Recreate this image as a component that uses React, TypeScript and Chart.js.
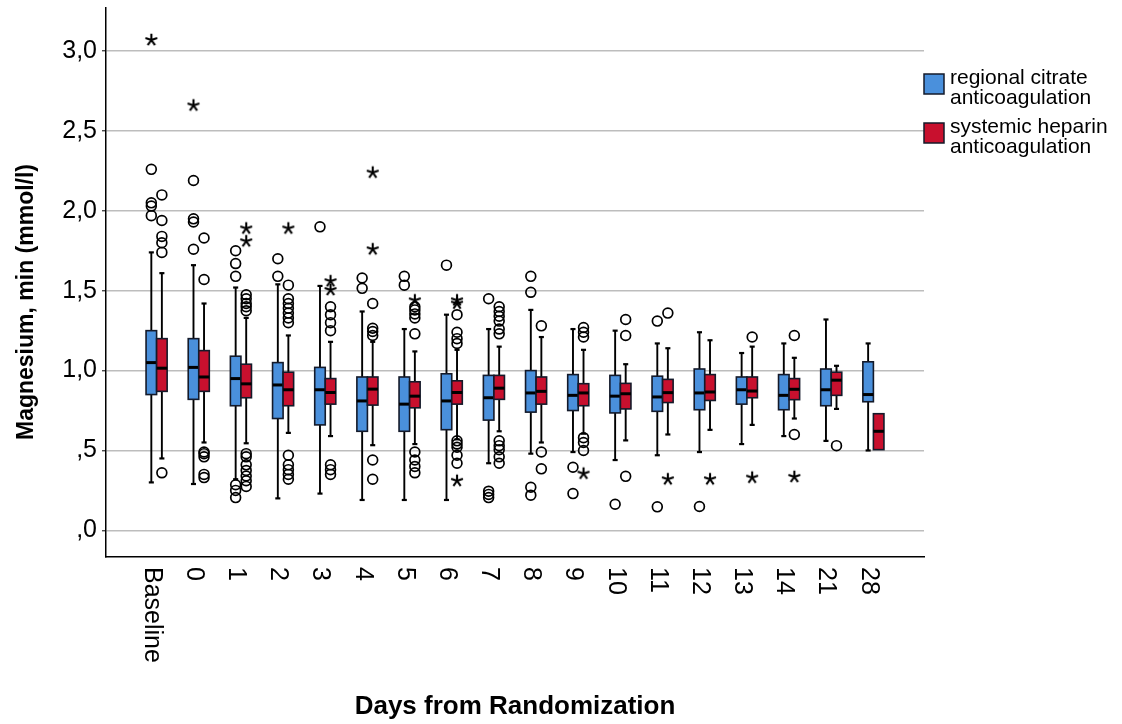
import React, { useEffect, useRef } from 'react';
import { Chart, registerables } from 'chart.js';

Chart.register(...registerables);

// ---------------- data ----------------
const categories = ['Baseline', '0', '1', '2', '3', '4', '5', '6', '7', '8', '9', '10', '11', '12', '13', '14', '21', '28'];

const seriesNames = [
  ['regional citrate', 'anticoagulation'],
  ['systemic heparin', 'anticoagulation'],
];

// regional citrate anticoagulation (blue)
const citrateLow = [0.30, 0.29, 0.32, 0.20, 0.23, 0.19, 0.19, 0.19, 0.42, 0.48, 0.49, 0.44, 0.47, 0.49, 0.54, 0.59, 0.56, 0.50];
const citrateQ1 = [0.85, 0.82, 0.78, 0.70, 0.66, 0.62, 0.62, 0.63, 0.69, 0.74, 0.75, 0.735, 0.745, 0.755, 0.79, 0.755, 0.78, 0.805];
const citrateMedian = [1.05, 1.02, 0.95, 0.91, 0.88, 0.81, 0.79, 0.81, 0.83, 0.86, 0.845, 0.84, 0.835, 0.86, 0.88, 0.845, 0.88, 0.85];
const citrateQ3 = [1.25, 1.20, 1.09, 1.05, 1.02, 0.96, 0.96, 0.98, 0.97, 1.00, 0.975, 0.97, 0.965, 1.01, 0.96, 0.975, 1.01, 1.055];
const citrateHigh = [1.74, 1.66, 1.52, 1.54, 1.53, 1.37, 1.26, 1.35, 1.26, 1.38, 1.26, 1.25, 1.17, 1.24, 1.11, 1.17, 1.32, 1.17];
const citrateOutliers = [
  [2.26, 2.05, 2.03, 1.97],
  [2.19, 1.95, 1.93, 1.76],
  [1.75, 1.67, 1.59, 0.285, 0.25, 0.205],
  [1.70, 1.59],
  [1.90],
  [1.58, 1.515],
  [1.59, 1.535],
  [1.66],
  [1.45, 0.245, 0.225, 0.205],
  [1.59, 1.49, 0.27, 0.22],
  [0.395, 0.23],
  [0.163],
  [1.31, 0.147],
  [0.149],
  [],
  [],
  [],
  [],
];
const citrateExtremes = [[3.07], [2.66], [], [], [], [], [], [], [], [], [], [], [], [], [], [], [], []];

// systemic heparin anticoagulation (red)
const heparinLow = [0.45, 0.55, 0.545, 0.61, 0.59, 0.533, 0.54, 0.57, 0.62, 0.55, 0.605, 0.563, 0.60, 0.629, 0.66, 0.70, 0.76, 0.505];
const heparinQ1 = [0.87, 0.87, 0.83, 0.78, 0.79, 0.784, 0.767, 0.79, 0.82, 0.79, 0.78, 0.76, 0.80, 0.813, 0.83, 0.818, 0.845, 0.505];
const heparinMedian = [1.015, 0.96, 0.917, 0.88, 0.863, 0.884, 0.84, 0.863, 0.89, 0.87, 0.86, 0.855, 0.862, 0.866, 0.872, 0.883, 0.94, 0.62];
const heparinQ3 = [1.20, 1.125, 1.04, 0.99, 0.95, 0.96, 0.93, 0.936, 0.97, 0.96, 0.918, 0.92, 0.945, 0.975, 0.96, 0.95, 0.99, 0.73];
const heparinHigh = [1.61, 1.42, 1.33, 1.22, 1.18, 1.18, 1.12, 1.13, 1.15, 1.21, 1.13, 1.04, 1.14, 1.19, 1.15, 1.08, 1.03, 0.73];
const heparinOutliers = [
  [2.10, 1.94, 1.84, 1.80, 1.74, 0.36],
  [1.83, 1.57, 0.49, 0.48, 0.46, 0.35, 0.33],
  [1.475, 1.45, 1.42, 1.40, 1.375, 0.48, 0.46, 0.41, 0.375, 0.34, 0.31, 0.275],
  [1.535, 1.45, 1.42, 1.39, 1.36, 1.33, 1.30, 0.47, 0.41, 0.38, 0.35, 0.32],
  [1.40, 1.35, 1.30, 1.25, 0.41, 0.38, 0.35],
  [1.42, 1.265, 1.245, 1.22, 0.44, 0.32],
  [1.40, 1.38, 1.355, 1.33, 1.23, 0.49, 0.44, 0.40, 0.36],
  [1.35, 1.24, 1.20, 1.17, 0.56, 0.54, 0.52, 0.47, 0.42],
  [1.40, 1.37, 1.34, 1.31, 1.26, 1.23, 0.56, 0.53, 0.505, 0.46, 0.42],
  [1.28, 0.49, 0.385],
  [1.27, 1.24, 1.21, 0.58, 0.55, 0.50],
  [1.32, 1.22, 0.338],
  [1.36],
  [],
  [1.21],
  [1.22, 0.60],
  [0.53],
  [],
];
const heparinExtremes = [
  [], [], [1.89, 1.81], [1.89], [1.56, 1.505], [2.24, 1.76], [1.44], [1.44, 1.42, 0.31],
  [], [], [0.355], [], [0.32], [0.32], [0.33], [0.335], [], [],
];

const yTickValues = [0, 0.5, 1, 1.5, 2, 2.5, 3];
const xAxisTitle = 'Days from Randomization';
const yAxisTitle = 'Magnesium, min (mmol/l)';

// ---------------- style ----------------
const BLUE = '#4a90dc';
const RED = '#c8102e';
const FONT = '"Liberation Sans", Arial, sans-serif';
const GROUP_OFFSET = 0.125;
const BOX_HALF = 0.125;
const CAP_HALF = 0.06;

function toPoints(groups: number[][], off: number) {
  const out: { x: number; y: number }[] = [];
  groups.forEach((g, i) => g.forEach((v) => out.push({ x: i + off, y: v })));
  return out;
}

function makeAsterisk(): HTMLCanvasElement {
  const c = document.createElement('canvas');
  c.width = 16;
  c.height = 16;
  const g = c.getContext('2d')!;
  g.strokeStyle = '#000';
  g.lineWidth = 2.1;
  g.beginPath();
  for (let k = 0; k < 5; k++) {
    const a = (-90 + k * 72) * Math.PI / 180;
    g.moveTo(8, 8);
    g.lineTo(8 + Math.cos(a) * 6.2, 8 + Math.sin(a) * 6.2);
  }
  g.stroke();
  return c;
}

const boxPlugin = {
  id: 'boxplots',
  beforeDatasetsDraw(chart: any) {
    const { ctx, scales } = chart;
    const xs = scales.x;
    const ys = scales.y;
    const series = [
      { low: citrateLow, q1: citrateQ1, med: citrateMedian, q3: citrateQ3, high: citrateHigh, color: BLUE, off: -GROUP_OFFSET },
      { low: heparinLow, q1: heparinQ1, med: heparinMedian, q3: heparinQ3, high: heparinHigh, color: RED, off: GROUP_OFFSET },
    ];
    ctx.save();
    series.forEach((s) => {
      categories.forEach((_, i) => {
        const xc = xs.getPixelForValue(i + s.off);
        const xl = xs.getPixelForValue(i + s.off - BOX_HALF);
        const xr = xs.getPixelForValue(i + s.off + BOX_HALF);
        const cl = xs.getPixelForValue(i + s.off - CAP_HALF);
        const cr = xs.getPixelForValue(i + s.off + CAP_HALF);
        const yLow = ys.getPixelForValue(s.low[i]);
        const yQ1 = ys.getPixelForValue(s.q1[i]);
        const yMed = ys.getPixelForValue(s.med[i]);
        const yQ3 = ys.getPixelForValue(s.q3[i]);
        const yHigh = ys.getPixelForValue(s.high[i]);
        ctx.strokeStyle = '#000';
        ctx.lineWidth = 1.9;
        ctx.beginPath();
        ctx.moveTo(xc, yHigh);
        ctx.lineTo(xc, yQ3);
        ctx.moveTo(xc, yQ1);
        ctx.lineTo(xc, yLow);
        ctx.stroke();
        if (s.high[i] > s.q3[i]) {
          ctx.lineWidth = 2.2;
          ctx.beginPath();
          ctx.moveTo(cl, yHigh);
          ctx.lineTo(cr, yHigh);
          ctx.stroke();
        }
        if (s.low[i] < s.q1[i]) {
          ctx.lineWidth = 2.2;
          ctx.beginPath();
          ctx.moveTo(cl, yLow);
          ctx.lineTo(cr, yLow);
          ctx.stroke();
        }
        ctx.fillStyle = s.color;
        ctx.fillRect(xl, yQ3, xr - xl, yQ1 - yQ3);
        ctx.strokeStyle = '#141a2a';
        ctx.lineWidth = 1.6;
        ctx.strokeRect(xl, yQ3, xr - xl, yQ1 - yQ3);
        ctx.strokeStyle = '#000';
        ctx.lineWidth = 3;
        ctx.beginPath();
        ctx.moveTo(xl, yMed);
        ctx.lineTo(xr, yMed);
        ctx.stroke();
      });
    });
    ctx.restore();
  },
};

const textPlugin = {
  id: 'texts',
  afterDraw(chart: any) {
    const { ctx, chartArea, scales } = chart;
    const xs = scales.x;
    ctx.save();
    ctx.fillStyle = '#000';
    // rotated category labels
    ctx.font = `25px ${FONT}`;
    ctx.textAlign = 'left';
    ctx.textBaseline = 'middle';
    categories.forEach((c, i) => {
      const px = xs.getPixelForValue(i) - 5;
      ctx.save();
      ctx.translate(px, chartArea.bottom + 10);
      ctx.rotate(Math.PI / 2);
      ctx.fillText(c, 0, 0);
      ctx.restore();
    });
    // axis titles
    ctx.font = `bold 26px ${FONT}`;
    ctx.textAlign = 'center';
    ctx.textBaseline = 'alphabetic';
    ctx.fillText(xAxisTitle, (chartArea.left + chartArea.right) / 2, 714);
    ctx.save();
    ctx.translate(27, 302);
    ctx.rotate(-Math.PI / 2);
    ctx.textBaseline = 'middle';
    ctx.font = `bold 23px ${FONT}`;
    ctx.fillText(yAxisTitle, 0, 0);
    ctx.restore();
    // legend
    const colors = [BLUE, RED];
    const tops = [74, 123];
    ctx.font = `21px ${FONT}`;
    ctx.textAlign = 'left';
    ctx.textBaseline = 'alphabetic';
    seriesNames.forEach((lines, k) => {
      const sx = chartArea.right;
      ctx.fillStyle = colors[k];
      ctx.fillRect(sx, tops[k], 20, 20);
      ctx.strokeStyle = '#141a2a';
      ctx.lineWidth = 1.5;
      ctx.strokeRect(sx, tops[k], 20, 20);
      ctx.fillStyle = '#000';
      lines.forEach((ln, j) => ctx.fillText(ln, sx + 26, tops[k] + 10 + j * 20));
    });
    ctx.restore();
  },
};

export default function App() {
  const canvasRef = useRef<HTMLCanvasElement | null>(null);

  useEffect(() => {
    if (!canvasRef.current) return;
    const star = makeAsterisk();
    const circleDs = (groups: number[][], off: number) => ({
      type: 'scatter' as const,
      data: toPoints(groups, off),
      showLine: false,
      pointStyle: 'circle',
      pointRadius: 4.9,
      pointBorderWidth: 1.7,
      pointBorderColor: '#000',
      pointBackgroundColor: 'rgba(0,0,0,0)',
    });
    const starDs = (groups: number[][], off: number) => ({
      type: 'scatter' as const,
      data: toPoints(groups, off),
      showLine: false,
      pointStyle: star,
      pointRadius: 7,
    });
    const chart = new Chart(canvasRef.current, {
      type: 'scatter',
      data: {
        datasets: [
          circleDs(citrateOutliers, -GROUP_OFFSET),
          circleDs(heparinOutliers, GROUP_OFFSET),
          starDs(citrateExtremes, -GROUP_OFFSET),
          starDs(heparinExtremes, GROUP_OFFSET),
        ] as any,
      },
      options: {
        responsive: false,
        animation: false,
        events: [],
        layout: { padding: { top: 8, right: 198, bottom: 0, left: 0 } },
        plugins: { legend: { display: false }, tooltip: { enabled: false }, title: { display: false } },
        scales: {
          x: {
            type: 'linear',
            min: -1.2,
            max: 18.2,
            grid: { display: false },
            border: { display: true, color: '#000', width: 1.5 },
            ticks: { display: false },
            afterFit: (s: any) => {
              s.height = 167;
              s.paddingLeft = 0;
              s.paddingRight = 0;
            },
          },
          y: {
            type: 'linear',
            min: -0.167,
            max: 3.27,
            afterBuildTicks: (s: any) => {
              s.ticks = yTickValues.map((v) => ({ value: v }));
            },
            afterFit: (s: any) => {
              s.width = 106;
              s.paddingTop = 0;
              s.paddingBottom = 0;
            },
            grid: { color: '#bdbdbd', lineWidth: 1.6, drawTicks: true, tickLength: 4, tickColor: '#000', tickWidth: 1 },
            border: { display: true, color: '#000', width: 1.5 },
            ticks: {
              color: '#000',
              padding: 5,
              font: { family: FONT, size: 25 },
              callback: (v: any) => {
                const s = Number(v).toFixed(1).replace('.', ',');
                return s.startsWith('0') ? s.slice(1) : s;
              },
            },
          },
        },
      } as any,
      plugins: [boxPlugin, textPlugin],
    });
    return () => chart.destroy();
  }, []);

  return (
    <div style={{ position: 'fixed', left: 0, top: 0, width: 1122, height: 724, background: '#fff' }}>
      <canvas ref={canvasRef} width={1122} height={724} style={{ display: 'block' }} />
    </div>
  );
}
